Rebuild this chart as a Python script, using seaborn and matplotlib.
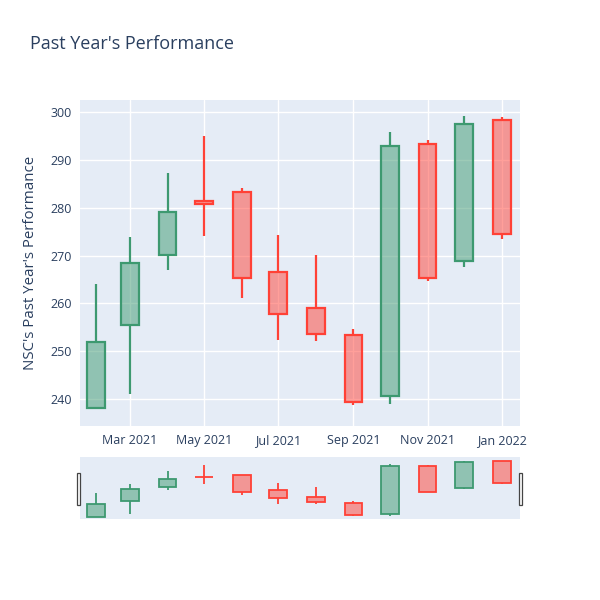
"""Monthly candlestick chart with a range slider underneath."""

import matplotlib
matplotlib.use("Agg")
import matplotlib.pyplot as plt
import matplotlib.dates as mdates
from matplotlib.colors import to_rgba
from matplotlib.patches import Rectangle
import numpy as np
import pandas as pd
import seaborn as sns

# Data
months = ["2021-02-01", "2021-03-01", "2021-04-01", "2021-05-01", "2021-06-01",
          "2021-07-01", "2021-08-01", "2021-09-01", "2021-10-01", "2021-11-01",
          "2021-12-01", "2022-01-01"]
opens = [238.0, 255.5, 270.2, 281.5, 283.3, 266.6, 259.0, 253.3, 240.6, 293.4, 268.9, 298.5]
highs = [264.0, 273.8, 287.4, 295.0, 284.1, 274.4, 270.1, 254.7, 296.0, 294.2, 299.2, 299.0]
lows = [237.8, 240.9, 267.0, 274.2, 261.1, 252.3, 252.1, 238.7, 239.0, 264.6, 267.7, 273.5]
closes = [252.0, 268.5, 279.2, 280.9, 265.4, 257.8, 253.6, 239.3, 292.9, 265.4, 297.6, 274.5]

TITLE = "Past Year's Performance"
YLABEL = "NSC's Past Year's Performance"
INC = "#3D9970"
DEC = "#FF4136"
BG = "#E5ECF6"
TEXT = "#2a3f5f"

df = pd.DataFrame({"date": pd.to_datetime(months), "open": opens, "high": highs,
                   "low": lows, "close": closes})

sns.set_theme(style="darkgrid", rc={
    "axes.facecolor": BG,
    "grid.color": "white",
    "grid.linewidth": 1.0,
    "axes.edgecolor": BG,
    "xtick.color": TEXT,
    "ytick.color": TEXT,
    "axes.labelcolor": TEXT,
})
plt.rcParams["font.family"] = ["Open Sans", "DejaVu Sans"]

W, H = 600, 600
XMIN = pd.Timestamp("2021-01-19")
XMAX = pd.Timestamp("2022-01-16")
YMIN, YMAX = 234.3, 302.6


def drawCandles(ax, df, width=14.6, lw=1.6):
  """
  Draws candlesticks on ax.
  :param plt.Axes ax:
  :param pd.DataFrame df: date, open, high, low, close
  """
  is_up = df["close"] >= df["open"]
  colors = np.where(is_up, INC, DEC)
  top = np.maximum(df["open"], df["close"])
  bottom = np.minimum(df["open"], df["close"])
  height = np.maximum(top - bottom, 0.25)
  ax.vlines(df["date"], top, df["high"], colors=colors, lw=lw, zorder=2)
  ax.vlines(df["date"], df["low"], bottom, colors=colors, lw=lw, zorder=2)
  ax.bar(df["date"], height, bottom=bottom, width=width,
         color=[to_rgba(c, 0.5) for c in colors], edgecolor=colors,
         linewidth=lw, zorder=3)


fig = plt.figure(figsize=(W / 100, H / 100), dpi=100)
fig.patch.set_facecolor("white")

# Main axis
ax = fig.add_axes([80 / W, 1 - 426 / H, 440 / W, 326 / H])
drawCandles(ax, df)
ax.set_xlim(XMIN, XMAX)
ax.set_ylim(YMIN, YMAX)
ax.xaxis.set_major_locator(mdates.MonthLocator(bymonth=[1, 3, 5, 7, 9, 11]))
ax.xaxis.set_major_formatter(mdates.DateFormatter("%b %Y"))
ax.set_yticks(np.arange(240, 301, 10))
ax.tick_params(axis="both", length=0, labelsize=9, pad=6)
ax.set_ylabel(YLABEL, fontsize=10.8, labelpad=9)
ax.grid(True, color="white", lw=1.0)
for spine in ax.spines.values():
  spine.set_visible(False)

# Range slider
ax_rs = fig.add_axes([80 / W, 1 - 519 / H, 440 / W, 62 / H])
drawCandles(ax_rs, df, lw=1.3)
ax_rs.set_xlim(XMIN, XMAX)
ax_rs.set_ylim(235.3, 303.3)
ax_rs.grid(False)
ax_rs.set_xticks([])
ax_rs.set_yticks([])
for spine in ax_rs.spines.values():
  spine.set_visible(False)
# Slider handles
for xpix in (78, 520):
  fig.patches.append(Rectangle(((xpix - 1.5) / W, 1 - 505 / H), 3.5 / W, 32 / H,
                               transform=fig.transFigure, facecolor="white",
                               edgecolor="#444444", lw=0.9, zorder=5))

fig.text(30 / W, 1 - 44 / H, TITLE, fontsize=13, color=TEXT, va="center", ha="left")

fig.savefig("out.png", dpi=100)
